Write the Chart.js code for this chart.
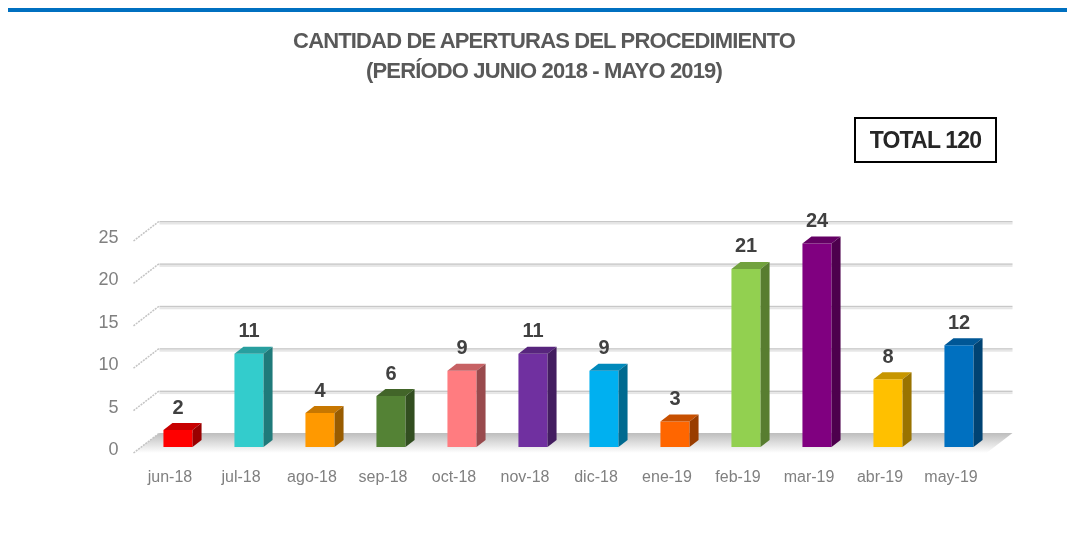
<!DOCTYPE html>
<html lang="es">
<head>
<meta charset="utf-8">
<title>Cantidad de aperturas del procedimiento</title>
<script src="https://cdn.jsdelivr.net/npm/chart.js@4/dist/chart.umd.min.js"></script>
<style>
  html, body { margin: 0; padding: 0; background: #fff; }
  #wrap { position: relative; width: 1067px; height: 555px; overflow: hidden; filter: blur(0.5px); }
  #rule { position: absolute; left: 8px; right: 0; top: 8px; height: 3.5px; background: #0070c0; }
  #chart { position: absolute; left: 0; top: 0; }
  #title {
    position: absolute; left: 144px; top: 26px; width: 800px; text-align: center;
    font: bold 22px/30px "Liberation Sans", Arial, sans-serif; letter-spacing: -0.85px; color: #595959;
  }
  #total {
    position: absolute; left: 854px; top: 117px; width: 139px; height: 42px;
    border: 2px solid #000; text-align: center;
    font: bold 23px/42px "Liberation Sans", Arial, sans-serif; letter-spacing: -0.8px; color: #262626;
  }
</style>
</head>
<body>
<div id="wrap">
  <div id="rule"></div>
  <canvas id="chart" width="1067" height="555"></canvas>
  <div id="title"></div>
  <div id="total">TOTAL 120</div>
</div>
<script>
const months = ["jun-18", "jul-18", "ago-18", "sep-18", "oct-18", "nov-18", "dic-18", "ene-19", "feb-19", "mar-19", "abr-19", "may-19"];
const aperturas = [2, 11, 4, 6, 9, 11, 9, 3, 21, 24, 8, 12];
const barColors = ["#ff0000", "#33cccc", "#ff9900", "#548235", "#ff7c80", "#7030a0", "#00b0f0", "#ff6600", "#92d050", "#800080", "#ffc000", "#0070c0"];
const yTicks = [0, 5, 10, 15, 20, 25];
const titleLines = ["CANTIDAD DE APERTURAS DEL PROCEDIMIENTO", "(PERÍODO JUNIO 2018 - MAYO 2019)"];

document.getElementById("title").innerHTML = titleLines.join("<br>");

function shade(hex, factor) {
  const n = parseInt(hex.slice(1), 16);
  const r = Math.round((n >> 16) * factor);
  const g = Math.round(((n >> 8) & 255) * factor);
  const b = Math.round((n & 255) * factor);
  return `rgb(${r},${g},${b})`;
}

function fillPoly(ctx, points, fill) {
  ctx.beginPath();
  points.forEach((p, i) => (i ? ctx.lineTo(p[0], p[1]) : ctx.moveTo(p[0], p[1])));
  ctx.closePath();
  ctx.fillStyle = fill;
  ctx.fill();
}

// the fake 3D room: floor, back wall lines and the slanted side ticks
const roomPlugin = {
  id: "room",
  beforeDatasetsDraw(chart) {
    const { ctx, chartArea } = chart;
    const y = chart.scales.y;
    const base = y.getPixelForValue(0);
    const left = chartArea.left;
    const right = chartArea.right;

    ctx.save();
    const floor = ctx.createLinearGradient(0, base - 14, 0, base + 6);
    floor.addColorStop(0, "#bdbdbd");
    floor.addColorStop(1, "#ffffff");
    fillPoly(ctx, [[left + 17, base - 14], [right + 18, base - 14], [right - 8, base + 6], [left - 9, base + 6]], floor);

    yTicks.forEach((v) => {
      const py = y.getPixelForValue(v);
      if (v > 0) {
        ctx.fillStyle = "#c8c8c8";
        ctx.fillRect(left + 17, py - 14, right - left + 1, 1.5);
        ctx.fillStyle = "#e6e6e6";
        ctx.fillRect(left + 17, py - 12.5, right - left + 1, 2);
      }
      ctx.strokeStyle = "#c4c4c4";
      ctx.lineWidth = 1.5;
      ctx.setLineDash([2, 1]);
      ctx.beginPath();
      ctx.moveTo(left - 9, py + 6);
      ctx.lineTo(left + 17, py - 14);
      ctx.stroke();
      ctx.setLineDash([]);
    });
    ctx.restore();
  },
  afterDatasetsDraw(chart) {
    const { ctx } = chart;
    const bars = chart.getDatasetMeta(0).data;
    ctx.save();
    bars.forEach((bar, i) => {
      const half = bar.width / 2;
      const l = bar.x - half;
      const r = bar.x + half;
      const t = bar.y;
      const b = bar.base;
      const dx = 9;
      const dy = 7;
      fillPoly(ctx, [[l, t], [l + dx, t - dy], [r + dx, t - dy], [r, t]], shade(barColors[i], 0.78));
      fillPoly(ctx, [[r, t], [r + dx, t - dy], [r + dx, b - dy], [r, b]], shade(barColors[i], 0.6));

      ctx.fillStyle = "#404040";
      ctx.font = 'bold 20px "Liberation Sans", Arial, sans-serif';
      ctx.textAlign = "center";
      ctx.textBaseline = "middle";
      ctx.fillText(String(aperturas[i]), bar.x, t - 22);
    });
    ctx.restore();
  },
};

new Chart(document.getElementById("chart"), {
  type: "bar",
  data: {
    labels: months,
    datasets: [
      {
        label: "Aperturas",
        data: aperturas,
        backgroundColor: barColors,
        barPercentage: 0.41,
        categoryPercentage: 1,
      },
    ],
  },
  options: {
    responsive: false,
    animation: false,
    layout: { padding: { left: 93.5, right: 72.5, top: 235, bottom: 0 } },
    plugins: {
      legend: { display: false },
      tooltip: { enabled: false },
    },
    scales: {
      x: {
        afterFit: (scale) => { scale.height = 108; },
        grid: { display: false },
        border: { display: false },
        ticks: {
          color: "#808080",
          padding: 13,
          labelOffset: -8,
          font: { family: '"Liberation Sans", Arial, sans-serif', size: 16 },
          maxRotation: 0,
          autoSkip: false,
        },
      },
      y: {
        min: 0,
        max: 25,
        afterFit: (scale) => { scale.width = 49; },
        grid: { display: false, drawTicks: false },
        border: { display: false },
        ticks: {
          stepSize: 5,
          color: "#808080",
          padding: 24,
          labelOffset: 3,
          font: { family: '"Liberation Sans", Arial, sans-serif', size: 18 },
        },
      },
    },
  },
  plugins: [roomPlugin],
});
</script>
</body>
</html>
